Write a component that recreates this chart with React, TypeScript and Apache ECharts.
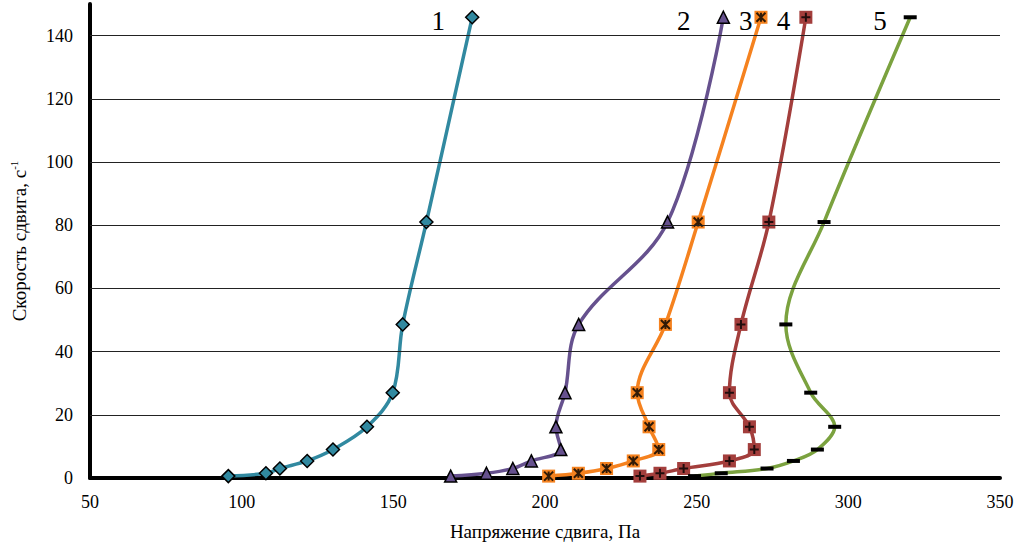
import { useEffect, useRef } from "react";
import * as echarts from "echarts";

// Shear rate (y), s^-1 — shared by all curves
const shearRate = [0.6, 1.5, 3.0, 5.4, 9.0, 16.2, 27, 48.6, 81, 145.8];

// Shear stress (x), Pa
const stress1 = [95.6, 108.0, 112.6, 121.6, 130.1, 141.3, 149.8, 153.1, 160.9, 176.0];
const stress2 = [168.9, 180.7, 189.4, 195.5, 205.2, 203.6, 206.6, 211.1, 240.4, 258.8];
const stress3 = [201.2, 211.0, 220.3, 229.1, 237.5, 234.3, 230.4, 239.7, 250.5, 271.2];
const stress4 = [231.3, 237.9, 245.7, 260.8, 269.0, 267.4, 260.8, 264.6, 273.8, 286.0];
const stress5 = [249.3, 258.1, 273.2, 281.9, 289.8, 295.5, 287.6, 279.4, 292.0, 320.4];

const curveNames = ["1", "2", "3", "4", "5"];
const gridLineValues = [20, 40, 60, 80, 100, 120, 140];

const FONT = "'Liberation Serif', 'Times New Roman', serif";

const pairs = (xs: number[]) => xs.map((x, i) => [x, shearRate[i]]);

export default function App() {
  const ref = useRef<HTMLDivElement>(null);

  useEffect(() => {
    document.body.style.margin = "0";
    if (!ref.current) return;
    const chart = echarts.init(ref.current, null, { renderer: "svg" });

    const last = shearRate.length - 1;
    const endLabel = (name: string, distance: number) => ({
      show: true,
      position: "left",
      distance,
      offset: [0, 4],
      fontFamily: FONT,
      fontSize: 27,
      color: "#000",
      formatter: (p: any) => (p.dataIndex === last ? name : ""),
    });

    const curve = (
      name: string,
      xs: number[],
      color: string,
      symbol: string,
      symbolSize: any,
      itemStyle: any,
      labelDist: number
    ) => ({
      type: "line",
      name,
      data: pairs(xs),
      smooth: 0.35,
      z: 3,
      symbol,
      symbolSize,
      showSymbol: true,
      lineStyle: { color, width: 3.5 },
      itemStyle,
      label: endLabel(name, labelDist),
      emphasis: { disabled: true },
    });

    const overlay = (xs: number[], path: string) => ({
      type: "scatter",
      data: pairs(xs),
      z: 4,
      symbol: path,
      symbolSize: 9,
      itemStyle: { color: "transparent", borderColor: "#000", borderWidth: 2 },
      emphasis: { disabled: true },
      silent: true,
    });

    chart.setOption({
      animation: false,
      grid: { left: 86, right: 28, top: 4, bottom: 68 },
      xAxis: {
        type: "value",
        min: 50,
        max: 350,
        interval: 50,
        name: "Напряжение сдвига, Па",
        nameLocation: "middle",
        nameGap: 44,
        nameTextStyle: { fontFamily: FONT, fontSize: 19, color: "#000" },
        axisLine: { show: true, lineStyle: { color: "#000", width: 4 } },
        axisTick: { show: false },
        splitLine: { show: false },
        axisLabel: { fontFamily: FONT, fontSize: 18, color: "#000", margin: 15 },
      },
      yAxis: {
        type: "value",
        min: 0,
        max: 150,
        interval: 20,
        name: "{a|Скорость сдвига, с}{s|-1}",
        nameLocation: "middle",
        nameGap: 60,
        nameTextStyle: {
          fontFamily: FONT,
          fontSize: 19,
          color: "#000",
          rich: {
            a: { fontFamily: FONT, fontSize: 19, color: "#000", lineHeight: 22 },
            s: { fontFamily: FONT, fontSize: 11, color: "#000", verticalAlign: "top", lineHeight: 22 },
          },
        },
        axisLine: { show: true, lineStyle: { color: "#000", width: 4 } },
        axisTick: { show: false },
        splitLine: { show: false },
        axisLabel: { fontFamily: FONT, fontSize: 18, color: "#000", margin: 17, showMaxLabel: false },
      },
      series: [
        {
          type: "line",
          data: [[50, 0]],
          z: 1,
          showSymbol: false,
          lineStyle: { opacity: 0 },
          silent: true,
          markLine: {
            silent: true,
            symbol: "none",
            label: { show: false },
            lineStyle: { color: "#222", width: 1, type: "solid" },
            data: gridLineValues.map((v) => ({ yAxis: v })),
          },
        },
        curve(curveNames[0], stress1, "#3189A0", "diamond", 13,
          { color: "#3189A0", borderColor: "#000", borderWidth: 1.5 }, 20),
        curve(curveNames[1], stress2, "#66518E", "triangle", 12,
          { color: "#66518E", borderColor: "#000", borderWidth: 1.5 }, 26),
        curve(curveNames[2], stress3, "#F5821F", "rect", 13,
          { color: "#F5821F", borderWidth: 0 }, 2),
        curve(curveNames[3], stress4, "#A33E3C", "rect", 13,
          { color: "#A33E3C", borderWidth: 0 }, 9),
        curve(curveNames[4], stress5, "#7BA23F", "rect", [13, 4],
          { color: "#000", borderWidth: 0 }, 17),
        overlay(stress3, "path://M0,0L10,10M10,0L0,10M5,0L5,10"),
        overlay(stress4, "path://M5,0L5,10M0,5L10,5"),
      ],
    });

    return () => chart.dispose();
  }, []);

  return <div ref={ref} style={{ width: 1028, height: 546 }} />;
}
